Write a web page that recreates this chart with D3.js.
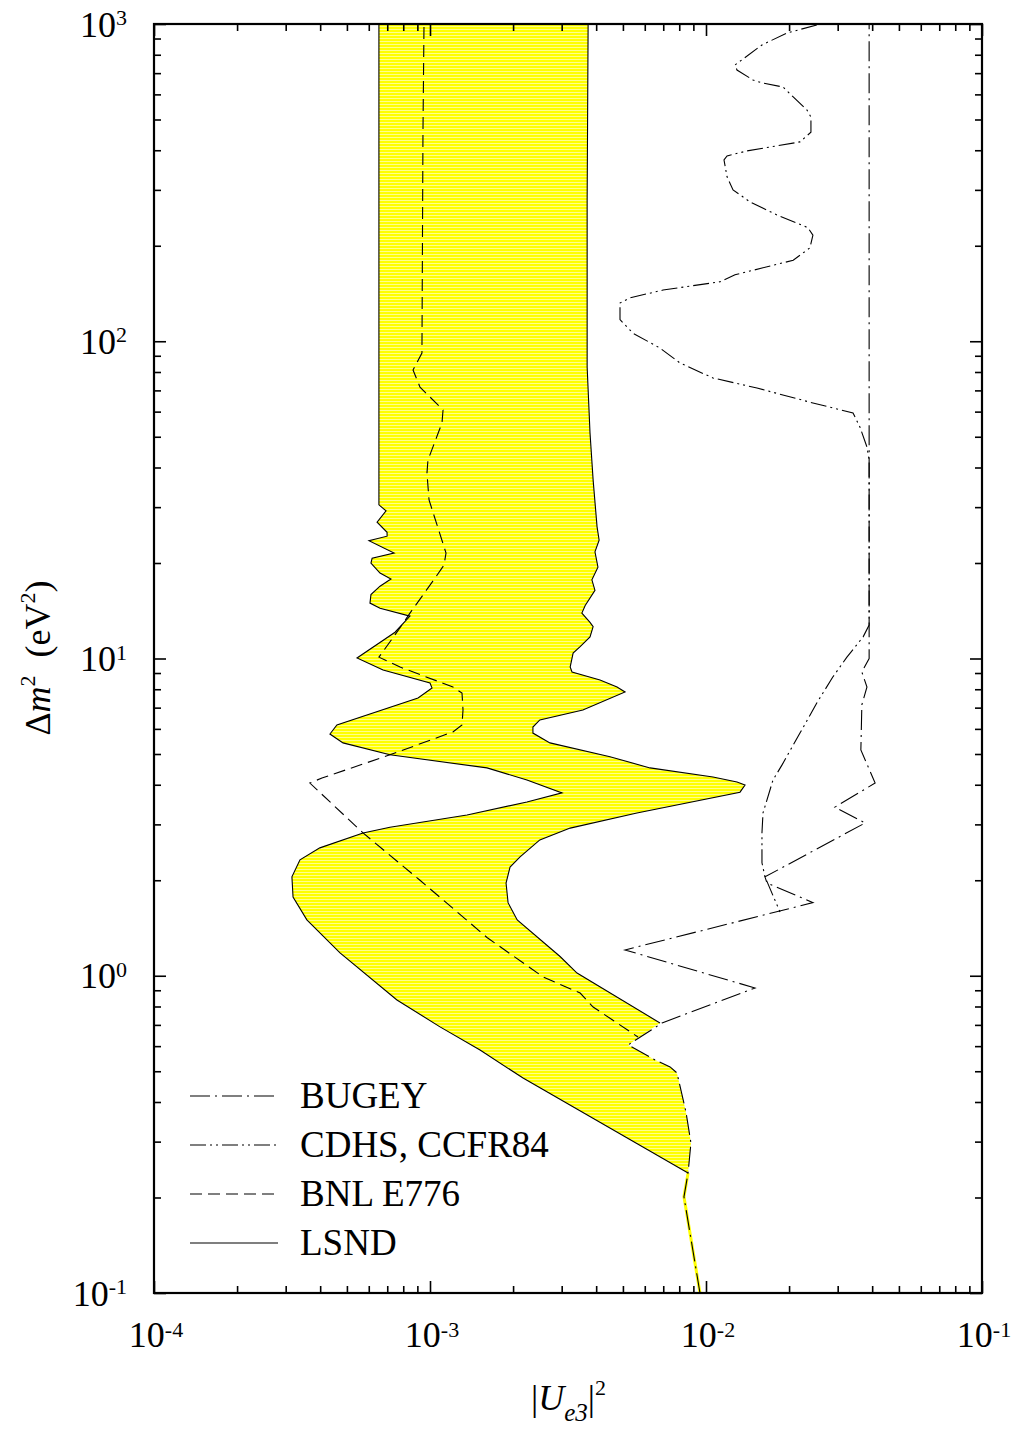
<!DOCTYPE html>
<html><head><meta charset="utf-8">
<script src="https://cdn.jsdelivr.net/npm/d3@7"></script>
<style>
body{margin:0;background:#fff}
svg{display:block}
text{font-family:"Liberation Serif","Times New Roman",serif;fill:#000}
</style>
</head><body>
<svg id="c" width="1018" height="1433"></svg>
<script>
// ---------- DATA (|U_e3|^2 , Δm^2 in eV^2) ----------
const xTickExps = [-4, -3, -2, -1];
const yTickExps = [-1, 0, 1, 2, 3];

// LSND allowed region: left boundary, top -> bottom vertex
const lsndLeft = [
  [6.53e-4,1000],[6.53e-4,30.5],[6.93e-4,29.2],[6.43e-4,26.9],[6.99e-4,25.0],[6.99e-4,24.3],
  [6.01e-4,23.5],[7.41e-4,21.5],[6.17e-4,20.7],[6.11e-4,20.0],[6.59e-4,18.6],[7.22e-4,17.8],
  [6.59e-4,16.9],[6.11e-4,15.9],[6.06e-4,14.95],[6.59e-4,14.4],[8.46e-4,13.6],[7.47e-4,12.1],
  [5.44e-4,10.04],[6.76e-4,9.20],[1.0e-3,8.37],[1.017e-3,8.07],[9.05e-4,7.51],[4.60e-4,6.17],
  [4.34e-4,5.78],[4.84e-4,5.42],[7.16e-4,4.97],[1.609e-3,4.52],[2.245e-3,4.14],[3.008e-3,3.77],
  [2.245e-3,3.53],[1.362e-3,3.21],[7.16e-4,2.94],[5.72e-4,2.82],[3.99e-4,2.53],[3.38e-4,2.32],
  [3.16e-4,2.05],[3.19e-4,1.77],[3.58e-4,1.50],[4.72e-4,1.18],[7.59e-4,0.839],[1.087e-3,0.690],
  [1.518e-3,0.583],[2.173e-3,0.476],[8.61e-3,0.239]
];
// right boundary, lower part (shared with BUGEY), bottom -> notch
const lsndRightLower = [
  [8.82e-3,0.297],[8.46e-3,0.372],[7.85e-3,0.494],[7.41e-3,0.516],[6.54e-3,0.543],[5.22e-3,0.605]
];
// right boundary, upper part, bottom -> top
const lsndRightUpper = [
  [6.81e-3,0.710],[3.41e-3,1.02],[2.96e-3,1.15],[2.07e-3,1.50],[1.918e-3,1.70],[1.886e-3,1.96],
  [1.95e-3,2.20],[2.12e-3,2.37],[2.50e-3,2.68],[3.22e-3,2.92],[5.62e-3,3.26],[1.328e-2,3.79],
  [1.385e-2,3.99],[1.295e-2,4.08],[1.060e-2,4.23],[6.27e-3,4.52],[4.49e-3,4.90],[2.72e-3,5.42],
  [2.36e-3,5.82],[2.36e-3,6.08],[2.50e-3,6.40],[3.58e-3,6.88],[5.09e-3,7.84],[4.76e-3,8.13],
  [4.13e-3,8.55],[3.27e-3,9.07],[3.22e-3,9.40],[3.30e-3,10.4],[3.50e-3,10.9],[3.80e-3,11.7],
  [3.90e-3,12.6],[3.80e-3,13.0],[3.55e-3,13.9],[3.65e-3,14.7],[3.96e-3,16.4],[3.86e-3,17.7],
  [4.06e-3,19.4],[3.96e-3,21.7],[4.10e-3,23.6],[4.03e-3,26.0],[3.90e-3,36.5],[3.80e-3,51.4],
  [3.71e-3,83.0],[3.71e-3,279],[3.74e-3,1000]
];
// thin LSND sliver below 0.24 eV^2
const lsndTail = [[8.61e-3,0.239],[8.32e-3,0.201],[9.51e-3,0.1]];

const bugey = [
  [9.51e-3,0.1],[8.32e-3,0.201],[8.61e-3,0.239],[8.82e-3,0.297],[8.46e-3,0.372],[7.85e-3,0.494],
  [7.41e-3,0.516],[6.54e-3,0.543],[5.22e-3,0.605],[6.93e-3,0.710],[1.505e-2,0.915],[5.09e-3,1.206],
  [2.44e-2,1.70],[1.663e-2,1.96],[1.636e-2,2.05],[3.77e-2,3.03],[2.93e-2,3.40],[4.10e-2,4.05],
  [3.64e-2,5.15],[3.67e-2,7.14],[3.83e-2,8.13],[3.67e-2,9.07],[3.90e-2,10.0],[3.90e-2,1000]
];

const cdhs = [
  [2.52e-2,993],[1.966e-2,937],[1.595e-2,859],[1.274e-2,743],[1.295e-2,716],[1.480e-2,666],
  [1.595e-2,652],[1.901e-2,633],[2.07e-2,589],[2.32e-2,536],[2.40e-2,509],[2.40e-2,456],
  [2.19e-2,425],[1.408e-2,398],[1.192e-2,384],[1.162e-2,373],[1.192e-2,330],[1.253e-2,300],
  [1.443e-2,275],[1.808e-2,250],[2.34e-2,228],[2.44e-2,216],[2.38e-2,197],[2.07e-2,180],
  [1.274e-2,162],[1.124e-2,154],[6.99e-3,145],[5.30e-3,137],[4.88e-3,132],[4.88e-3,117],
  [5.44e-3,106],[6.81e-3,95.2],[8.05e-3,85.4],[1.060e-2,76.6],[1.530e-2,71.2],[2.44e-2,63.9],
  [3.41e-2,59.4],[3.61e-2,53.7],[3.83e-2,46.4],[3.90e-2,42.2],[3.90e-2,12.75],[3.71e-2,11.7],
  [3.24e-2,10.1],[2.88e-2,8.74],[2.52e-2,7.24],[2.19e-2,5.82],[1.886e-2,4.62],[1.749e-2,4.14],
  [1.609e-2,3.26],[1.595e-2,2.82],[1.595e-2,2.27],[1.636e-2,2.05],[1.854e-2,1.588]
];

const bnl = [
  [9.51e-4,978],[9.43e-4,453],[9.35e-4,91.8],[8.68e-4,81.2],[9.20e-4,71.7],[1.0e-3,66.7],
  [1.115e-3,60.7],[1.105e-3,55.2],[9.83e-4,42.2],[9.75e-4,38.4],[9.92e-4,31.6],[1.069e-3,25.8],
  [1.143e-3,21.5],[1.124e-3,19.7],[1.042e-3,17.9],[8.46e-4,13.9],[7.79e-4,12.5],[6.53e-4,10.1],
  [7.79e-4,9.40],[1.211e-3,8.13],[1.306e-3,7.78],[1.317e-3,6.88],[1.306e-3,6.17],[1.211e-3,5.87],
  [7.16e-4,4.97],[4.06e-4,4.20],[3.67e-4,4.05],[5.72e-4,2.82],[9.20e-4,2.00],[1.609e-3,1.32],
  [2.57e-3,0.991],[3.50e-3,0.882],[3.90e-3,0.797],[5.67e-3,0.641]
];

const legendLabels = ["BUGEY", "CDHS, CCFR84", "BNL E776", "LSND"];

// ---------- STYLES ----------
const dashBugey = "20,5,2,5";
const dashCdhs = "16,4,2,4,2,4";
const dashBnl = "12,6";

// ---------- CHART ----------
const svg = d3.select("#c");
const m = {left:154, right:982, top:24, bottom:1293};
const x = d3.scaleLog().domain([1e-4, 1e-1]).range([m.left, m.right]);
const y = d3.scaleLog().domain([0.1, 1000]).range([m.bottom, m.top]);

const defs = svg.append("defs");
const pat = defs.append("pattern").attr("id","stripes")
  .attr("patternUnits","userSpaceOnUse").attr("width",8).attr("height",3);
pat.append("rect").attr("width",8).attr("height",3).attr("fill","#ffff00");
pat.append("rect").attr("y",2).attr("width",8).attr("height",1).attr("fill","#ffff8c");
defs.append("clipPath").attr("id","clip").append("rect")
  .attr("x",m.left).attr("y",m.top).attr("width",m.right-m.left).attr("height",m.bottom-m.top);

const line = d3.line().x(d => x(d[0])).y(d => y(d[1]));
const plot = svg.append("g").attr("clip-path","url(#clip)");

// LSND fill
const poly = lsndLeft.concat(lsndRightLower, lsndRightUpper);
plot.append("path").attr("d", line(poly) + "Z").attr("fill","url(#stripes)").attr("stroke","none");
plot.append("path").attr("d", line(lsndTail)).attr("fill","none").attr("stroke","#ffff00").attr("stroke-width",3);
// LSND outlines
plot.append("path").attr("d", line(lsndLeft)).attr("fill","none").attr("stroke","#000").attr("stroke-width",1.1);
plot.append("path").attr("d", line(lsndRightUpper)).attr("fill","none").attr("stroke","#000").attr("stroke-width",1.1);

// other experiments
plot.append("path").attr("d", line(bnl)).attr("fill","none").attr("stroke","#000")
  .attr("stroke-width",1.1).attr("stroke-dasharray",dashBnl);
plot.append("path").attr("d", line(cdhs)).attr("fill","none").attr("stroke","#000")
  .attr("stroke-width",1.1).attr("stroke-dasharray",dashCdhs);
plot.append("path").attr("d", line(bugey)).attr("fill","none").attr("stroke","#000")
  .attr("stroke-width",1.1).attr("stroke-dasharray",dashBugey);

// ticks via d3 axes
const xMajor = xTickExps.map(e => Math.pow(10, e));
const yMajor = yTickExps.map(e => Math.pow(10, e));
const xMinor = d3.range(-4, -1).flatMap(e => d3.range(2, 10).map(k => k * Math.pow(10, e)));
const yMinor = d3.range(-1, 3).flatMap(e => d3.range(2, 10).map(k => k * Math.pow(10, e)));

function addAxis(gen, tr) {
  const g = svg.append("g").attr("transform", tr).call(gen);
  g.select(".domain").remove();
  g.selectAll("text").remove();
  g.selectAll("line").attr("stroke","#000").attr("stroke-width",1.6);
}
const MAJ = 12, MIN = 7;
addAxis(d3.axisBottom(x).tickValues(xMajor).tickSize(-MAJ).tickFormat(() => ""), `translate(0,${m.bottom})`);
addAxis(d3.axisBottom(x).tickValues(xMinor).tickSize(-MIN).tickFormat(() => ""), `translate(0,${m.bottom})`);
addAxis(d3.axisTop(x).tickValues(xMajor).tickSize(-MAJ).tickFormat(() => ""), `translate(0,${m.top})`);
addAxis(d3.axisTop(x).tickValues(xMinor).tickSize(-MIN).tickFormat(() => ""), `translate(0,${m.top})`);
addAxis(d3.axisLeft(y).tickValues(yMajor).tickSize(-MAJ).tickFormat(() => ""), `translate(${m.left},0)`);
addAxis(d3.axisLeft(y).tickValues(yMinor).tickSize(-MIN).tickFormat(() => ""), `translate(${m.left},0)`);
addAxis(d3.axisRight(y).tickValues(yMajor).tickSize(-MAJ).tickFormat(() => ""), `translate(${m.right},0)`);
addAxis(d3.axisRight(y).tickValues(yMinor).tickSize(-MIN).tickFormat(() => ""), `translate(${m.right},0)`);

// frame
svg.append("rect").attr("x",m.left).attr("y",m.top).attr("width",m.right-m.left).attr("height",m.bottom-m.top)
  .attr("fill","none").attr("stroke","#000").attr("stroke-width",2.2);

// tick labels
const FS = 36, SUP = 22;
yTickExps.forEach(e => {
  const t = svg.append("text").attr("x", 127).attr("y", y(Math.pow(10, e)) + 12.5)
    .attr("text-anchor","end").attr("font-size", FS);
  t.append("tspan").text("10");
  t.append("tspan").attr("font-size", SUP).attr("dy", -11.5).text(String(e));
});
xTickExps.forEach(e => {
  const t = svg.append("text").attr("x", x(Math.pow(10, e)) + 2).attr("y", 1347)
    .attr("text-anchor","middle").attr("font-size", FS);
  t.append("tspan").text("10");
  t.append("tspan").attr("font-size", SUP).attr("dy", -10).text(String(e));
});

// axis titles
const xt = svg.append("text").attr("x", 531).attr("y", 1410).attr("font-size", FS);
xt.append("tspan").text("|");
xt.append("tspan").attr("font-style","italic").text("U");
xt.append("tspan").attr("font-style","italic").attr("font-size", 25).attr("dy", 11).text("e3");
xt.append("tspan").attr("dy", -11).text("|");
xt.append("tspan").attr("font-size", SUP).attr("dy", -15).text("2");

const yt = svg.append("text").attr("transform","translate(50,658) rotate(-90)")
  .attr("text-anchor","middle").attr("font-size", FS);
yt.append("tspan").text("Δ");
yt.append("tspan").attr("font-style","italic").text("m");
yt.append("tspan").attr("font-size", SUP).attr("dy", -15).text("2");
yt.append("tspan").attr("dy", 15).attr("xml:space","preserve").text("\u00a0\u00a0(eV");
yt.append("tspan").attr("font-size", SUP).attr("dy", -15).text("2");
yt.append("tspan").attr("dy", 15).text(")");

// legend
const legDash = [dashBugey, dashCdhs, dashBnl, null];
legendLabels.forEach((lab, i) => {
  const ly = 1096 + i * 49;
  const l = svg.append("line").attr("x1",190).attr("x2",278).attr("y1",ly).attr("y2",ly)
    .attr("stroke","#000").attr("stroke-width",1.1);
  if (legDash[i]) l.attr("stroke-dasharray", legDash[i]);
  svg.append("text").attr("x",300).attr("y",ly + 12).attr("font-size",37).text(lab);
});
</script>
</body></html>
